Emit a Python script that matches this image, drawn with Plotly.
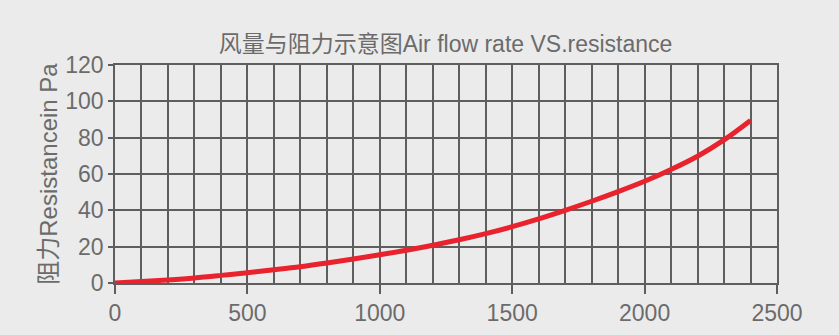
import plotly.graph_objects as go

flow = [0, 100, 200, 300, 400, 500, 600, 700, 800, 900, 1000, 1100, 1200,
        1300, 1400, 1500, 1600, 1700, 1800, 1900, 2000, 2100, 2200, 2300, 2400]
resistance = [0, 0.8, 1.7, 2.8, 4.2, 5.7, 7.3, 9.0, 11.0, 13.2, 15.5, 18.0, 20.8,
              23.8, 27.2, 31.0, 35.3, 40.0, 45.0, 50.3, 56.0, 62.5, 69.8, 78.8, 89.5]

title_text = "风量与阻力示意图Air flow rate VS.resistance"
y_title = "阻力Resistancein Pa"

bg = "#ebebeb"
grid = "#5e5e5e"
txt = "#6b6b6b"
font_fam = "Liberation Sans, Arial, Noto Sans CJK SC, sans-serif"

fig = go.Figure()
fig.add_trace(go.Scatter(x=flow, y=resistance, mode="lines",
                         line=dict(color="#e8232d", width=5, shape="spline"),
                         showlegend=False))

fig.update_layout(
    width=839, height=335,
    margin=dict(l=115, r=62, t=65, b=52),
    paper_bgcolor=bg, plot_bgcolor=bg,
    font=dict(family=font_fam, color=txt),
    title=dict(text=title_text, x=0.531, xanchor="center", y=0.87, yanchor="middle",
               font=dict(size=23, color=txt, family=font_fam)),
    xaxis=dict(range=[0, 2500], dtick=500, tick0=0, showgrid=True,
               gridcolor=grid, gridwidth=1.6, automargin=False,
               ticks="outside", ticklen=9, tickwidth=1.6, tickcolor=grid,
               tickfont=dict(size=23, color=txt),
               minor=dict(dtick=100, showgrid=True, gridcolor=grid, gridwidth=1.6),
               showline=True, linecolor=grid, linewidth=1.6, mirror=True,
               zeroline=False, fixedrange=True),
    yaxis=dict(range=[0, 120], dtick=20, tick0=0, showgrid=True,
               gridcolor=grid, gridwidth=1.6, automargin=False,
               ticks="outside", ticklen=5, tickwidth=1.6, tickcolor=grid,
               tickfont=dict(size=23, color=txt),
               title=dict(text=y_title, font=dict(size=24, color=txt), standoff=1),
               showline=True, linecolor=grid, linewidth=1.6, mirror=True,
               zeroline=False, fixedrange=True),
)

fig.write_html("out.html")
